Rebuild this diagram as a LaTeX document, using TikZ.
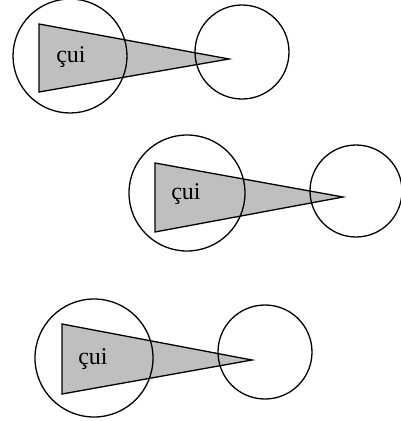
\documentclass[tikz,border=0pt]{standalone}
\usepackage{fontspec}
\setmainfont{Liberation Serif}
\begin{document}
\begin{tikzpicture}[x=1pt,y=-1pt,
  ring/.style={draw=black,line width=1.3pt,circle,inner sep=0pt,minimum size=#1},
  wedge/.style={draw=black,line width=1.3pt,fill=black!25,line join=miter},
  lbl/.style={font=\fontsize{24}{26}\selectfont,inner sep=0pt}]
\useasboundingbox (0,0) rectangle (400,421);
% top pair: shaded wedge first, the circles over it
\coordinate (T1) at (229,59);
\filldraw[wedge] (39,24) -- (T1) -- (39,92) -- cycle;
\node[ring=114pt] (L1) at (70,56) {};
\node[ring=94pt] (R1) at (242,52) {};
\node[lbl] (c1) at (71,57) {çui};
% middle pair
\coordinate (T2) at (343,197);
\filldraw[wedge] (155,163) -- (T2) -- (155,232) -- cycle;
\node[ring=116pt] (L2) at (187,193) {};
\node[ring=92pt] (R2) at (356,191) {};
\node[lbl] (c2) at (186,194) {çui};
% bottom pair
\coordinate (T3) at (252,360);
\filldraw[wedge] (62,324) -- (T3) -- (62,394) -- cycle;
\node[ring=118pt] (L3) at (94,358) {};
\node[ring=94pt] (R3) at (265,352) {};
\node[lbl] (c3) at (93,359) {çui};
\end{tikzpicture}
\end{document}
